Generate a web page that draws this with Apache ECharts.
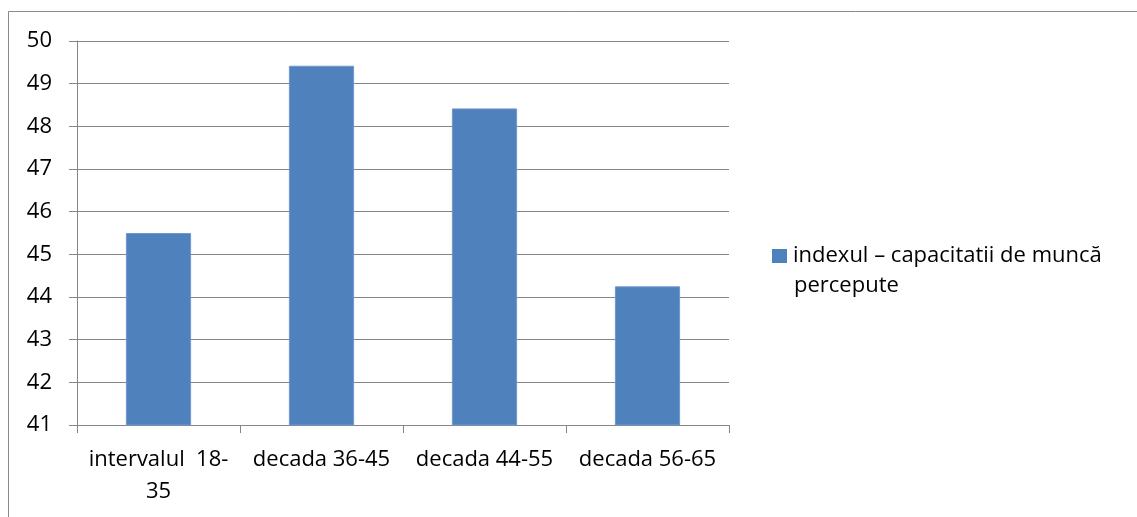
<!DOCTYPE html>
<html>
<head>
<meta charset="utf-8">
<title>Indexul capacitatii de muncă percepute</title>
<script src="https://cdn.jsdelivr.net/npm/echarts@6/dist/echarts.min.js"></script>
<style>
  html, body { margin: 0; padding: 0; background: #ffffff; }
  #chart { width: 1137px; height: 517px; }
</style>
</head>
<body>
<div id="chart"></div>
<script>
// Age groups on the category axis
const categories = ['intervalul  18-\n35', 'decada 36-45', 'decada 44-55', 'decada 56-65'];
// Perceived work capacity index per age group
const indexValues = [45.5, 49.42, 48.42, 44.25];
const seriesName = 'indexul – capacitatii de muncă percepute';
const yMin = 41;
const yMax = 50;
const yStep = 1;

const FONT = '"Open Sans"';
const FONT_SIZE = 22;
const TEXT = '#000000';
const AXIS = '#868686';
const BAR = '#4F81BD';

const chart = echarts.init(document.getElementById('chart'), null, { renderer: 'canvas' });

const legendFirstLine = 'indexul – capacitatii de muncă';
const legendSecondLine = seriesName.slice(legendFirstLine.length).trim();

chart.setOption({
  backgroundColor: '#ffffff',
  animation: false,
  grid: { left: 77, right: 408, top: 41, bottom: 92, containLabel: false },
  xAxis: {
    type: 'category',
    data: categories,
    axisLine: { show: true, lineStyle: { color: AXIS, width: 1 } },
    axisTick: { show: true, length: 8, alignWithLabel: false, lineStyle: { color: AXIS } },
    axisLabel: {
      color: TEXT, fontFamily: FONT, fontSize: FONT_SIZE, lineHeight: 32, margin: 19,
      interval: 0
    },
    splitLine: { show: false }
  },
  yAxis: {
    type: 'value',
    min: yMin, max: yMax, interval: yStep,
    axisLine: { show: true, lineStyle: { color: AXIS, width: 1 } },
    axisTick: { show: true, length: 8, lineStyle: { color: AXIS } },
    axisLabel: { color: TEXT, fontFamily: FONT, fontSize: FONT_SIZE, margin: 25 },
    splitLine: { show: true, lineStyle: { color: AXIS, width: 1 } }
  },
  legend: {
    show: true,
    left: 772, top: 245,
    padding: 0,
    orient: 'vertical',
    icon: 'rect',
    itemWidth: 15, itemHeight: 14, itemGap: 8,
    itemStyle: { borderWidth: 0 },
    formatter: () => legendFirstLine,
    textStyle: { color: TEXT, fontFamily: FONT, fontSize: FONT_SIZE, padding: [0, 0, 0, 1] },
    data: [seriesName]
  },
  graphic: [
    {
      type: 'rect',
      silent: true,
      shape: { x: 8.5, y: 11.5, width: 1300, height: 700 },
      style: { fill: 'none', stroke: '#8a8a8a', lineWidth: 1 }
    },
    {
      type: 'text',
      silent: true,
      left: 794, top: 275,
      style: { text: legendSecondLine, fill: TEXT, font: FONT_SIZE + 'px ' + FONT }
    }
  ],
  series: [
    {
      name: seriesName,
      type: 'bar',
      data: indexValues,
      barWidth: '40%',
      itemStyle: { color: BAR, borderColor: '#7098cc', borderWidth: 1 }
    }
  ]
});
</script>
</body>
</html>
